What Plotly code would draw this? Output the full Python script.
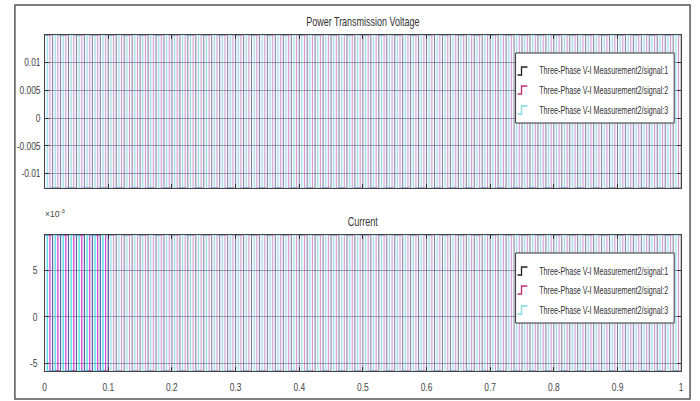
import numpy as np
import plotly.graph_objects as go

# ---- measured signals (Three-Phase V-I Measurement2) ----
signal_names = [
    "Three-Phase V-I Measurement2/signal:1",
    "Three-Phase V-I Measurement2/signal:2",
    "Three-Phase V-I Measurement2/signal:3",
]
t_start = 0.0
t_stop = 1.0
switch_interval = 0.0125                 # s between level changes of one phase
phase_offsets = [0.0, 0.00833, 0.00417]  # s, start of each phase's pulse train

voltage_high = [0.0150, 0.0150, 0.0150]
voltage_low = [-0.0126, -0.0126, -0.0126]
current_high = [0.0088, 0.0088, 0.0088]
current_low = [-0.0058, -0.0058, -0.0058]

x_ticks = [0, 0.1, 0.2, 0.3, 0.4, 0.5, 0.6, 0.7, 0.8, 0.9, 1]
x_tick_text = ["0", "0.1", "0.2", "0.3", "0.4", "0.5", "0.6", "0.7", "0.8", "0.9", "1"]
v_ticks = [0.01, 0.005, 0, -0.005, -0.01]
v_tick_text = ["0.01", "0.005", "0", "-0.005", "-0.01"]
i_ticks = [0.005, 0, -0.005]
i_tick_text = ["5", "0", "-5"]

line_colors = ["#3a3a60", "#b040a8", "#30c8d8"]
line_alpha = [0.6, 0.5, 0.5]
startup_colors = ["#4a5aa0", "#e020d8", "#30e0e8"]
glyph_colors = ["#222222", "#c03070", "#80d8e0"]

W, H = 700, 401
FONT = "Liberation Sans, Arial, sans-serif"


def pulse_train(offset, hi, lo):
    """Step samples (t, level) of a pulse train switching every switch_interval."""
    edges = [t_start]
    t = offset if offset > t_start else offset + switch_interval
    while t < t_stop:
        edges.append(t)
        t += switch_interval
    edges.append(t_stop)
    levels = [hi if k % 2 == 0 else lo for k in range(len(edges))]
    levels[-1] = levels[-2]
    return np.array(edges), np.array(levels)


def px_x(x):
    return x / W


def px_y(y):
    return 1 - y / H


fig = go.Figure()

# Voltage (upper axes)
for k in range(3):
    t, v = pulse_train(phase_offsets[k], voltage_high[k], voltage_low[k])
    fig.add_trace(go.Scatter(
        x=t, y=v, mode="lines", line=dict(color=line_colors[k], width=1, shape="hv"),
        opacity=line_alpha[k], name=signal_names[k], showlegend=False,
        xaxis="x", yaxis="y", hoverinfo="skip"))

# Current (lower axes): the start-up interval is drawn more strongly
for k in range(3):
    t, c = pulse_train(phase_offsets[k], current_high[k], current_low[k])
    fig.add_trace(go.Scatter(
        x=t, y=c, mode="lines", line=dict(color=line_colors[k], width=1, shape="hv"),
        opacity=line_alpha[k], name=signal_names[k], showlegend=False,
        xaxis="x2", yaxis="y2", hoverinfo="skip"))
    early = t <= 0.1
    fig.add_trace(go.Scatter(
        x=t[early], y=c[early], mode="lines",
        line=dict(color=startup_colors[k], width=1, shape="hv"), opacity=0.8,
        showlegend=False, xaxis="x2", yaxis="y2", hoverinfo="skip"))

axis_common = dict(
    ticks="inside", ticklen=4, tickcolor="#333", showline=True, linecolor="#444",
    linewidth=1, mirror="ticks", zeroline=False,
    tickfont=dict(family=FONT, size=10.5, color="#444"),
)

fig.update_layout(
    width=W, height=H,
    margin=dict(l=0, r=0, t=0, b=0),
    paper_bgcolor="white",
    plot_bgcolor="#f5f7fb",
    xaxis=dict(domain=[px_x(42), px_x(684)], anchor="y", range=[0, 1],
               tickvals=x_ticks, showticklabels=False, showgrid=False, **axis_common),
    yaxis=dict(domain=[px_y(188), px_y(35)], anchor="x", range=[-0.0126, 0.0150],
               tickvals=v_ticks, ticktext=v_tick_text, showgrid=True,
               gridcolor="rgba(60,60,90,0.45)", gridwidth=1, ticklabelstandoff=1,
               **axis_common),
    xaxis2=dict(domain=[px_x(42), px_x(684)], anchor="y2", range=[0, 1],
                tickvals=x_ticks, ticktext=x_tick_text, showgrid=False,
                ticklabelstandoff=6, **axis_common),
    yaxis2=dict(domain=[px_y(371), px_y(235)], anchor="x2", range=[-0.0058, 0.0088],
                tickvals=i_ticks, ticktext=i_tick_text, showgrid=True,
                gridcolor="rgba(60,60,90,0.45)", gridwidth=1, ticklabelstandoff=4,
                **axis_common),
)

shapes = [
    # outer frame
    dict(type="rect", xref="paper", yref="paper", x0=px_x(12), x1=px_x(693),
         y0=px_y(399), y1=px_y(5), line=dict(color="#555", width=1.5), layer="above"),
]
annotations = [
    dict(text="Power Transmission Voltage", x=px_x(363), y=px_y(22), xref="paper",
         yref="paper", xanchor="center", yanchor="middle", showarrow=False,
         font=dict(family=FONT, size=12.5, color="#333")),
    dict(text="Current", x=px_x(363), y=px_y(222), xref="paper", yref="paper",
         xanchor="center", yanchor="middle", showarrow=False,
         font=dict(family=FONT, size=12.5, color="#333")),
    dict(text="×10<sup>-3</sup>", x=px_x(40), y=px_y(214), xref="paper", yref="paper",
         xanchor="left", yanchor="middle", showarrow=False,
         font=dict(family=FONT, size=8.5, color="#444")),
]

# legend boxes with step glyphs
for top in (53, 253):
    shapes.append(dict(type="rect", xref="paper", yref="paper", x0=px_x(517), x1=px_x(677),
                       y0=px_y(top + 70), y1=px_y(top), fillcolor="white",
                       line=dict(color="#333", width=1), layer="above"))
    for k, dy in enumerate((18, 37, 57)):
        yc = top + dy
        path = "M {} {} L {} {} L {} {} L {} {}".format(
            px_x(519), px_y(yc + 4), px_x(523), px_y(yc + 4),
            px_x(523), px_y(yc - 4), px_x(529), px_y(yc - 4))
        shapes.append(dict(type="path", xref="paper", yref="paper", path=path,
                           line=dict(color=glyph_colors[k], width=1.3), layer="above"))
        annotations.append(dict(text=signal_names[k], x=px_x(606), y=px_y(yc),
                                xref="paper", yref="paper", xanchor="center",
                                yanchor="middle", showarrow=False,
                                font=dict(family=FONT, size=10, color="#333")))

fig.update_layout(shapes=shapes, annotations=annotations)

# The scope uses a condensed face: annotations are squeezed horizontally
# about their centre with a transform, tick labels via textLength.
condense_js = """
var gd = document.getElementById('{plot_id}');
var f = 0.72;
gd.querySelectorAll('g.annotation text.annotation-text').forEach(function (t) {
  if (t.querySelector('tspan')) return;
  var cx = parseFloat(t.getAttribute('x') || 0);
  t.setAttribute('transform',
    'translate(' + cx + ',0) scale(' + f + ',1) translate(' + (-cx) + ',0)');
});
gd.querySelectorAll('g.xtick text, g.ytick text, g.x2tick text, g.y2tick text')
  .forEach(function (t) {
    var w = t.getComputedTextLength();
    if (!(w > 0)) return;
    t.setAttribute('textLength', (w * 0.8).toFixed(2));
    t.setAttribute('lengthAdjust', 'spacingAndGlyphs');
  });
"""
fig.write_html("out.html", post_script=condense_js)
